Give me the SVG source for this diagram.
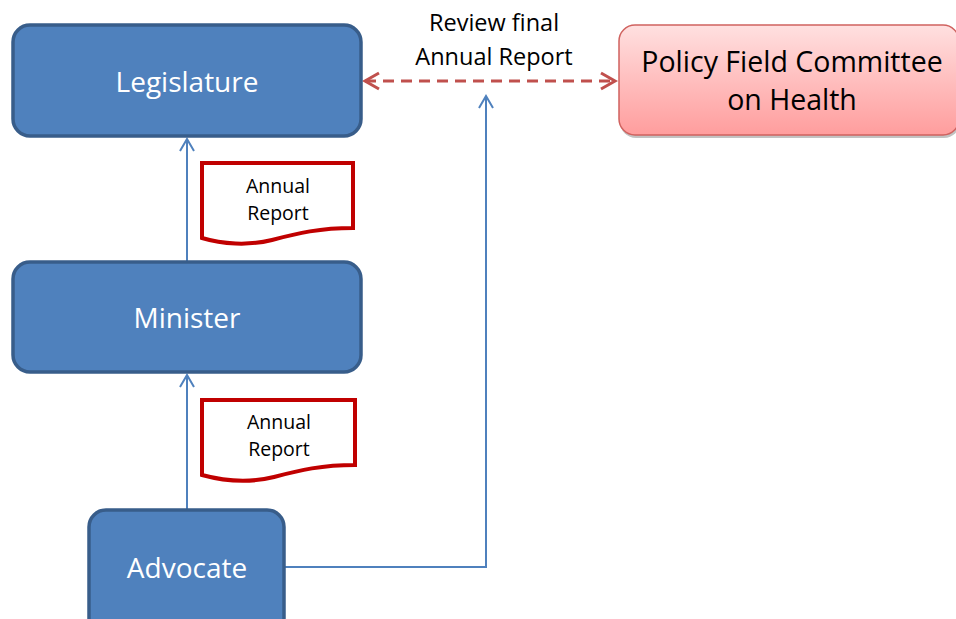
<svg xmlns="http://www.w3.org/2000/svg" width="956" height="619" viewBox="0 0 956 619">
<style>
.box{fill:#4f81bd;stroke:#385d8a;stroke-width:3.5}
.bt{font-family:"Open Sans","Liberation Sans",sans-serif;font-size:28px;fill:#fff;text-anchor:middle}
.doc{fill:#fff;stroke:#c00000;stroke-width:4}
.dt{font-family:"Open Sans","Liberation Sans",sans-serif;font-size:19.5px;fill:#000;text-anchor:middle}
.lbl{font-family:"Open Sans","Liberation Sans",sans-serif;font-size:23.5px;fill:#000;text-anchor:middle}
.pt{font-family:"Open Sans","Liberation Sans",sans-serif;font-size:28.5px;fill:#000;text-anchor:middle}
.conn{fill:none;stroke:#4f81bd;stroke-width:2}
.dash{fill:none;stroke:#c0504d;stroke-width:3;stroke-dasharray:11 7}
</style>
<defs>
<marker id="ab" markerWidth="16" markerHeight="16" refX="13" refY="8" orient="auto" markerUnits="userSpaceOnUse">
<path d="M1,1 L13,8 L1,15" fill="none" stroke="#4f81bd" stroke-width="2"/>
</marker>
<marker id="ar" markerWidth="20" markerHeight="20" refX="16" refY="10" orient="auto-start-reverse" markerUnits="userSpaceOnUse">
<path d="M2,2 L16,10 L2,18" fill="none" stroke="#c0504d" stroke-width="3"/>
</marker>
<linearGradient id="pg" x1="0" y1="0" x2="0" y2="1">
<stop offset="0" stop-color="#ffe0e0"/>
<stop offset="1" stop-color="#ff9d9d"/>
</linearGradient>
</defs>
<g id="connectors">
<line class="conn" x1="187" y1="262" x2="187" y2="139" marker-end="url(#ab)"/>
<line class="conn" x1="187" y1="510" x2="187" y2="375" marker-end="url(#ab)"/>
<polyline class="conn" points="285,567 486,567 486,96" marker-end="url(#ab)"/>
<line class="dash" x1="365" y1="81" x2="615" y2="81" marker-start="url(#ar)" marker-end="url(#ar)"/>
<text class="lbl" x="494" y="31">Review final</text>
<text class="lbl" x="494" y="65">Annual Report</text>
</g>
<g id="legislature">
<rect class="box" x="13" y="25" width="348" height="111" rx="17"/>
<text class="bt" x="187" y="92">Legislature</text>
</g>
<g id="minister">
<rect class="box" x="13" y="262" width="348" height="110" rx="17"/>
<text class="bt" x="187" y="328">Minister</text>
</g>
<g id="advocate">
<rect class="box" x="89" y="510" width="195" height="125" rx="17"/>
<text class="bt" x="187" y="578">Advocate</text>
</g>
<g id="policy">
<rect x="620" y="28" width="340" height="110" rx="16" fill="#9a9a9a" opacity="0.6"/>
<rect x="619" y="25" width="340" height="110" rx="16" fill="url(#pg)" stroke="#d0625f" stroke-width="1.5"/>
<text class="pt" x="792" y="72">Policy Field Committee</text>
<text class="pt" x="792" y="110">on Health</text>
</g>
<g id="report1">
<path class="doc" d="M202,163 H353 V228 C320,228 298,233 272,240 C248,246 222,244 202,238 Z"/>
<text class="dt" x="278" y="193">Annual</text>
<text class="dt" x="278" y="220">Report</text>
</g>
<g id="report2">
<path class="doc" d="M202,400 H355 V465 C322,465 300,470 274,477 C250,483 224,481 202,475 Z"/>
<text class="dt" x="279" y="429">Annual</text>
<text class="dt" x="279" y="456">Report</text>
</g>
</svg>
